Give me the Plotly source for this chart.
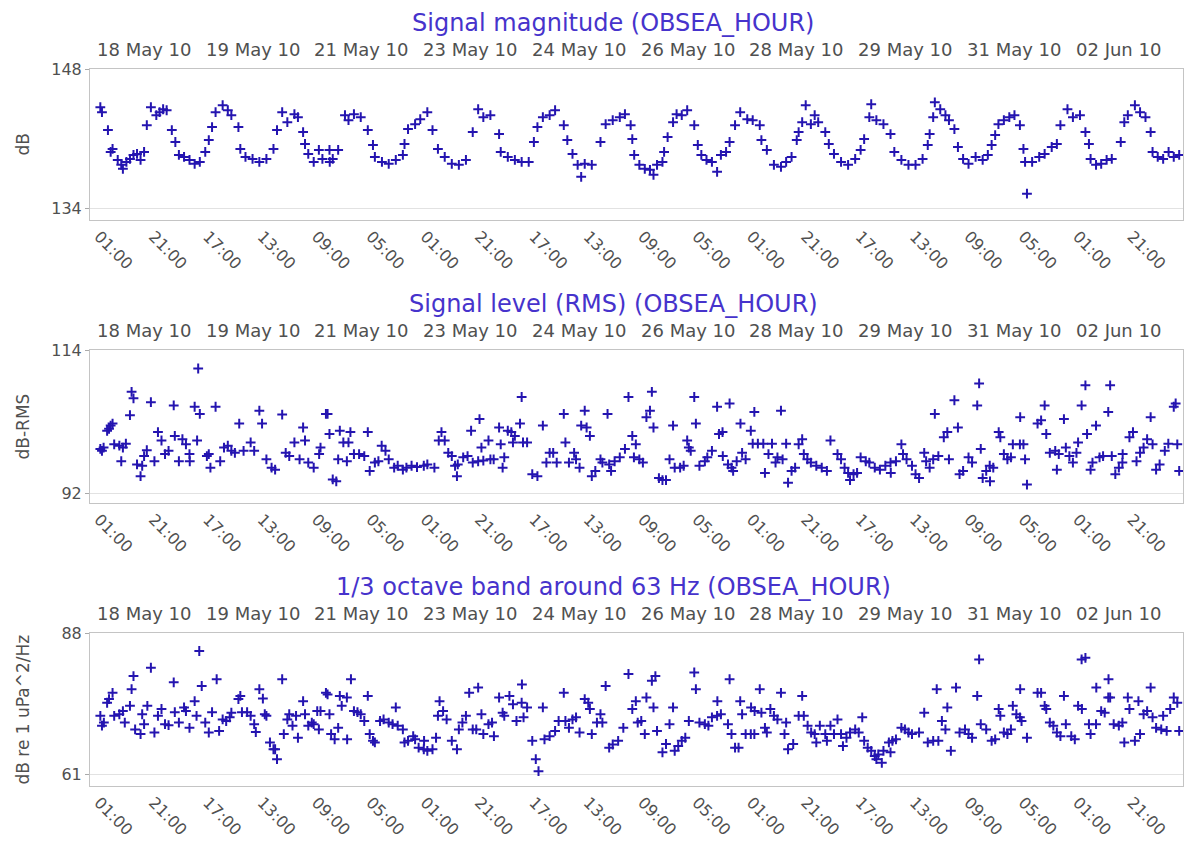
import pandas as pd
import plotly.graph_objects as go

# ---------------- data ----------------
# hours after 18 May 2010 01:00, value
START = "2010-05-18 01:00"

MAGNITUDE_DB = [
    (0.5,144.2),(1.1,143.7),(3.3,141.9),(4.3,139.7),(5.0,140.0),(6.9,138.9),(8.2,138.4),(8.8,138.0),(10.1,138.7),(11.4,139.0),
    (12.7,139.4),(14.0,139.5),(15.3,138.9),(16.6,139.7),(17.6,142.4),(19.1,144.2),(21.1,143.4),(22.3,143.7),(23.6,144.0),(24.9,143.9),
    (26.8,141.9),(28.1,140.7),(29.4,139.4),(31.3,139.2),(33.3,138.9),(35.2,138.5),(37.1,138.7),(39.1,139.7),(40.4,140.9),(41.6,142.2),
    (42.9,143.7),(45.5,144.4),(47.4,143.9),(48.7,143.4),(51.3,142.2),(52.0,140.0),(53.9,139.2),(56.5,139.0),(59.0,138.7),(61.6,139.0),
    (64.2,140.0),(65.5,141.9),(67.4,143.7),(69.3,142.7),(71.9,143.5),(73.2,143.2),(75.1,141.7),(75.8,140.5),(77.0,139.5),(79.0,138.7),
    (80.9,139.9),(82.2,139.0),(84.8,139.9),(84.9,138.7),(86.0,139.0),(88.0,139.9),(90.5,143.4),(91.8,142.9),(93.8,143.5),(96.3,143.2),
    (98.9,141.9),(100.8,140.4),(101.5,139.2),(104.1,138.7),(106.6,138.5),(109.2,138.9),(111.8,139.4),(112.4,140.5),(113.7,142.0),(116.3,142.5),
    (118.2,143.0),(120.8,143.7),(122.7,141.9),(124.7,140.0),(127.2,139.2),(129.8,138.5),(132.4,138.4),(135.0,138.9),(137.5,141.7),(139.5,144.0),
    (141.4,143.2),(144.0,143.4),(147.2,141.5),(147.8,139.7),(150.4,139.2),(153.0,138.9),(155.5,138.7),(158.1,138.7),(160.0,140.7),(161.3,142.2),
    (163.3,143.2),(165.8,143.4),(167.8,143.9),(171.0,142.4),(172.3,140.9),(174.2,139.5),(176.1,138.4),(177.4,137.2),(178.7,138.5),(181.3,138.4),
    (184.5,140.7),(186.4,142.5),(189.0,142.9),(191.6,143.2),(193.5,143.5),(195.6,142.4),(196.2,141.0),(196.9,139.4),(198.8,138.4),(200.8,138.0),
    (202.7,137.9),(204.0,137.4),(205.3,138.4),(207.3,138.7),(207.9,139.7),(209.2,141.2),(211.2,142.7),(212.5,143.5),(214.4,143.4),(216.4,143.9),
    (219.0,142.4),(220.3,140.4),(221.6,139.4),(223.5,138.9),(225.5,138.7),(227.4,137.7),(228.8,139.4),(230.7,139.7),(232.0,140.7),(234.0,142.4),
    (235.9,143.7),(238.5,143.0),(240.5,142.9),(243.1,142.4),(243.7,140.9),(245.7,139.9),(248.3,138.4),(250.9,138.2),(252.8,138.7),(254.8,139.2),
    (256.7,140.9),(257.4,141.7),(258.7,142.7),(260.0,144.4),(261.9,142.5),(263.3,143.4),(264.6,142.7),(267.2,141.7),(268.5,140.5),(270.4,139.5),
    (273.0,138.7),(275.6,138.4),(278.2,139.0),(280.2,139.9),(281.5,141.0),(283.4,143.2),(284.1,144.5),(286.0,142.9),(288.6,142.5),(291.2,141.5),
    (292.6,139.7),(295.2,138.9),(297.8,138.4),(300.4,138.4),(303.0,139.0),(304.9,140.4),(305.6,141.5),(306.9,143.2),(307.5,144.7),(309.5,144.0),
    (311.4,143.4),(312.7,142.9),(314.7,142.0),(316.0,140.2),(317.9,139.0),(319.9,138.5),(322.5,139.2),(325.1,138.9),(327.0,139.4),(328.4,140.4),
    (329.7,141.4),(330.9,142.5),(332.9,142.9),(334.9,143.2),(336.8,143.4),(338.8,142.4),(340.1,140.0),(340.7,138.7),(341.4,135.5),(343.3,138.7),
    (345.9,139.2),(347.9,139.5),(350.5,140.2),(352.4,140.5),(353.7,142.4),(356.3,144.0),(358.3,143.2),(360.9,143.4),(362.9,141.7),(364.2,140.5),
    (364.8,139.0),(366.8,138.4),(368.7,138.5),(370.7,138.9),(372.6,139.0),(375.9,140.7),(377.2,142.7),(378.5,143.4),(381.1,144.4),(383.0,143.7),
    (385.0,143.2),(386.9,141.7),(387.6,139.7),(389.5,139.2),(391.5,139.0),(393.5,139.7),(395.4,139.2),(397.4,139.4),
]

RMS_DB = [
    (0.5,98.8),(1.1,98.5),(1.7,99.0),(3.0,101.6),(3.7,101.9),(4.3,102.4),(5.0,102.7),(5.6,99.5),(7.5,99.3),(8.8,99.0),
    (9.9,99.6),(8.2,96.9),(11.4,104.0),(12.0,107.6),(12.7,106.6),(14.0,96.4),(15.9,96.2),(15.3,94.6),(16.6,97.7),(17.6,98.6),
    (19.1,106.0),(20.4,96.9),(21.7,101.4),(23.0,100.1),(24.3,98.0),(25.6,98.5),(27.5,105.5),(27.9,100.8),(29.4,96.9),(30.7,100.3),
    (32.0,99.5),(33.3,98.0),(33.4,96.9),(35.2,105.3),(36.1,100.1),(37.1,104.2),(36.5,111.2),(39.7,97.7),(40.4,98.0),(41.0,95.9),
    (42.9,105.3),(44.6,96.9),(46.0,99.0),(47.4,99.3),(48.7,98.5),(50.0,98.2),(51.6,102.7),(53.2,98.5),(55.8,99.8),(57.1,98.5),
    (59.0,104.7),(60.0,102.7),(61.6,97.2),(63.5,95.9),(64.8,95.6),(67.4,104.1),(68.7,98.2),(70.0,97.7),(71.9,99.8),(73.8,97.2),
    (75.1,102.1),(75.8,100.1),(77.0,96.7),(79.0,95.9),(81.0,98.0),(81.5,99.0),(83.5,104.2),(84.1,104.2),(84.8,101.1),(86.0,94.1),
    (87.3,93.8),(88.0,97.2),(88.6,101.6),(89.9,99.8),(91.8,99.8),(91.2,96.9),(92.5,101.4),(93.8,98.0),(95.7,98.0),(97.6,97.7),
    (98.9,101.4),(99.6,95.4),(101.5,96.7),(102.8,96.9),(104.0,99.3),(105.4,98.5),(106.6,97.2),(108.6,95.9),(109.9,96.2),(111.8,95.6),
    (113.1,95.9),(115.0,96.2),(117.0,96.0),(119.5,96.2),(120.8,96.4),(123.4,95.9),(125.0,100.1),(126.0,101.4),(127.2,100.1),(128.5,98.2),
    (129.8,97.7),(131.0,96.2),(132.0,96.4),(131.7,94.6),(134.0,97.5),(135.6,97.7),(136.9,101.6),(137.5,96.7),(139.5,96.9),(141.4,97.0),
    (144.0,97.2),(145.2,97.2),(140.0,103.4),(140.7,99.0),(143.3,100.1),(147.2,102.1),(147.8,99.5),(148.5,95.9),(149.1,97.5),(150.4,101.6),
    (151.7,101.4),(153.0,100.8),(152.3,99.8),(154.9,102.7),(155.5,106.8),(156.0,99.8),(157.5,99.8),(159.4,94.9),(161.3,94.6),(163.3,102.4),
    (164.6,96.7),(165.8,98.2),(167.1,98.2),(168.4,96.7),(171.0,104.2),(171.6,99.8),(172.9,96.7),(174.8,98.2),(175.5,97.2),(176.8,95.9),
    (177.4,102.4),(179.4,102.1),(178.7,104.7),(180.6,100.8),(181.3,94.6),(182.6,95.4),(184.5,97.2),(185.2,96.7),(187.1,104.2),(187.7,96.4),
    (189.7,96.9),(188.4,95.4),(191.6,97.5),(193.5,98.8),(194.8,106.8),
    (196.2,100.8),(197.5,99.5),(196.8,97.5),(198.8,97.2),(200.1,96.7),(201.4,103.7),(202.7,104.7),(203.4,107.6),(204.0,102.1),(206.0,94.3),
    (207.3,94.0),(208.6,94.0),(209.9,97.2),(211.2,102.4),(211.8,95.9),(213.8,95.9),(215.1,96.2),(216.4,100.1),(217.0,99.0),(217.7,98.5),
    (219.0,106.8),(219.6,102.7),(220.9,96.2),(222.9,96.9),(223.8,97.5),(225.5,98.5),(227.4,105.3),(228.1,101.1),(229.4,101.4),(229.5,97.7),
    (231.4,96.4),(232.7,95.9),(233.3,95.4),(232.0,105.8),(234.6,96.9),(236.6,98.2),(237.9,97.2),(236.0,102.7),(239.8,101.6),(240.5,99.6),
    (242.4,99.6),(244.4,99.6),(247.6,99.6),(241.1,104.5),(245.0,95.1),(246.3,98.0),(248.9,96.7),(249.6,97.5),(251.5,97.2),(250.9,104.7),
    (252.8,99.6),(253.5,93.6),(254.8,95.4),(256.1,95.9),(257.4,99.5),(258.7,100.3),(259.3,98.0),(260.6,97.2),(261.9,96.7),(263.9,96.2),
    (265.9,95.9),(267.8,95.4),(269.1,100.1),(271.7,98.0),(273.0,97.2),(274.3,95.9),(275.6,95.1),(276.3,94.0),(277.6,94.9),(278.9,95.1),
    (280.2,97.5),(282.1,96.9),(283.4,96.7),(285.4,95.9),(287.3,95.6),(289.3,96.2),(291.2,96.7),(293.2,96.9),(291.3,95.1),(295.2,99.5),
    (295.8,98.0),(297.1,97.2),(299.1,96.2),(300.4,94.9),(301.7,94.3),(303.6,98.2),(304.3,96.9),(305.6,95.9),(306.9,97.2),(308.8,97.7),
    (307.5,104.2),(310.8,100.6),(312.1,101.4),(312.7,97.2),(314.7,106.3),(316.0,102.1),(316.6,94.9),(317.9,95.4),(319.9,97.5),(321.2,96.7),
    (323.1,105.5),(323.8,108.9),(324.4,98.8),(325.1,94.3),(326.4,95.4),(327.7,96.2),(327.8,93.8),(329.0,95.9),(331.0,101.4),(331.6,100.6),
    (332.9,98.0),(334.2,97.2),(335.5,97.5),(336.2,99.5),(338.8,99.5),(340.1,99.5),(338.9,103.7),(340.7,97.2),(341.4,93.3),(345.3,102.7),
    (346.6,103.2),(347.9,105.5),(348.5,101.1),(349.8,98.2),(351.8,98.5),(353.1,98.0),(352.4,95.6),(355.0,103.4),(355.7,99.0),(357.0,97.7),
    (358.3,96.7),(359.6,98.2),(360.2,99.8),(361.5,105.5),(362.9,108.6),(363.5,101.1),(364.8,95.6),(366.8,102.4),(365.5,96.7),(368.1,97.5),
    (369.4,97.7),(371.3,104.5),(372.0,108.6),(372.6,97.7),(373.9,94.9),(375.2,95.9),(376.5,96.7),(376.6,98.0),(379.1,100.6),(380.4,101.4),
    (381.7,96.9),(383.0,98.2),(384.3,99.0),(385.6,100.3),(386.9,103.7),(387.6,99.5),(388.9,95.6),(390.2,96.4),(392.1,98.5),(393.4,99.6),
    (395.4,105.3),(396.1,105.8),(396.7,99.5),(397.4,95.4),
]

BAND63_DB = [
    (0.5,72.2),(1.1,70.3),(1.8,70.9),(3.0,74.7),(3.7,75.4),(5.0,76.6),(5.6,72.2),(7.5,72.5),(8.8,73.1),(9.5,70.9),
    (11.4,74.1),(12.0,77.3),(12.7,79.8),(13.3,69.6),(15.3,68.7),(15.9,72.5),(16.6,70.6),(17.8,74.1),(19.1,81.4),(20.4,69.0),
    (21.7,72.2),(23.0,73.5),(24.3,70.6),(25.6,70.4),(27.5,78.6),(27.9,72.9),(29.4,70.9),(31.3,73.8),(32.0,73.1),(33.3,69.9),
    (35.2,75.0),(35.9,72.2),(36.9,84.6),(37.8,77.9),(39.1,70.9),(40.4,69.0),(41.6,72.9),(43.3,79.2),(44.2,69.3),(45.5,71.5),
    (46.8,71.2),(48.1,71.9),(48.7,72.8),(51.3,75.4),(52.0,76.0),(52.6,72.9),(54.5,72.9),(55.8,72.2),(57.1,70.6),(57.7,69.1),
    (59.0,77.3),(60.3,75.5),(61.0,72.5),(61.6,72.2),(62.9,67.1),(64.2,65.8),(64.8,65.8),(65.5,63.9),(67.4,79.2),(68.0,68.7),
    (69.3,71.5),(70.0,72.5),(71.2,70.3),(72.5,72.2),(73.2,68.0),(75.1,75.0),(75.8,72.5),(77.0,70.3),(78.3,70.9),(79.0,70.6),
    (80.3,73.1),(81.5,73.1),(80.9,69.6),(83.5,76.6),(84.1,76.3),(84.8,72.5),(85.4,68.7),(86.7,67.7),(88.0,69.9),(88.6,76.0),
    (91.2,75.7),(89.3,74.1),(91.3,67.7),(92.7,79.2),(93.8,73.1),(95.1,72.9),(96.3,72.5),(97.6,71.2),(98.9,76.0),(99.6,68.7),
    (100.8,67.4),(101.5,67.1),(103.4,71.2),(104.7,71.5),(106.6,70.9),(108.0,70.6),(109.9,70.3),(109.2,73.8),(111.8,69.6),(112.4,67.1),
    (113.7,67.4),(115.6,68.3),(116.3,67.7),(117.6,66.1),(119.5,65.8),(120.8,65.5),(122.7,65.8),(119.6,67.4),(124.0,68.0),(124.7,72.2),
    (125.3,75.0),(126.6,73.1),(127.9,71.5),(129.8,67.4),(131.7,65.8),(132.4,69.6),(133.7,70.9),(135.0,72.2),(136.2,76.6),(139.5,77.6),
    (137.5,69.6),(138.8,69.6),(140.7,72.5),(141.4,68.7),(143.3,70.6),(144.6,70.9),(145.3,68.3),(147.2,75.7),(148.5,72.8),(149.1,72.2),
    (151.0,76.0),(152.3,74.4),(153.6,71.2),(155.5,74.7),(156.2,71.9),(157.5,73.8),(155.6,78.2),(159.4,67.4),(160.7,63.9),(161.7,61.6),
    (163.3,73.8),(163.9,67.7),(165.8,68.3),(167.8,69.3),(169.1,71.2),(171.0,76.6),(171.6,71.2),(172.9,69.9),(174.2,71.5),(175.5,71.9),
    (176.8,69.0),(178.7,75.4),(180.0,74.7),(180.6,73.5),(181.3,68.7),(183.2,70.9),(184.5,72.5),(185.2,70.9),(186.4,77.9),(187.7,66.1),
    (189.0,66.7),(191.0,67.4),(192.9,69.9),(194.8,80.2),
    (196.2,73.5),(197.5,75.0),(198.2,70.9),(199.5,71.2),(200.8,68.7),(201.4,75.7),(203.4,78.9),(204.7,79.8),(204.0,73.8),(205.3,69.3),
    (207.3,65.2),(208.6,66.8),(209.9,70.6),(211.2,73.8),(211.8,65.5),(213.1,66.4),(214.4,67.4),(215.7,68.0),(217.0,71.2),(219.0,80.5),
    (219.6,77.3),(220.9,70.9),(222.9,70.6),(224.2,70.3),(225.5,71.9),(227.4,72.2),(228.8,72.5),(227.5,75.0),(231.4,70.6),(232.0,79.2),
    (232.7,68.7),(234.0,66.1),(235.3,66.1),(235.9,75.0),(236.6,72.5),(237.9,68.7),(239.8,68.7),(241.1,68.7),(239.9,73.8),(241.2,73.1),
    (243.1,77.3),(243.7,72.8),(245.0,69.9),(245.7,69.0),(247.0,73.5),(248.3,72.2),(249.6,71.5),(250.9,76.6),(252.2,68.7),(252.8,70.9),
    (253.5,65.8),(255.4,66.8),(257.4,72.2),(258.7,76.0),(259.3,72.2),(260.7,70.3),(262.0,69.0),(263.3,68.7),(263.9,67.1),(265.2,70.3),
    (267.2,68.7),(267.8,67.4),(269.1,70.3),(270.4,68.7),(271.7,71.5),(273.0,68.7),(273.7,66.4),(275.0,68.0),(276.3,69.0),(278.2,69.6),
    (279.5,69.0),(280.8,71.9),(281.5,67.4),(282.8,66.1),(284.1,65.5),(285.4,64.5),(286.7,64.8),(286.0,63.9),(288.0,63.2),(288.6,65.5),
    (290.6,67.1),(291.9,67.4),(293.2,67.7),(291.2,65.2),(295.2,69.9),(296.5,69.6),(297.8,69.0),(299.1,68.7),(301.7,69.0),(303.6,72.8),
    (304.9,67.1),(306.9,67.4),(308.8,67.4),(308.2,77.3),(310.1,71.2),(311.4,69.6),(312.1,73.8),(313.4,65.5),(315.3,77.6),(316.6,69.0),
    (318.6,69.6),(319.9,68.7),(321.2,68.0),(323.1,76.0),(323.8,83.0),(324.4,70.6),(326.4,69.6),(328.4,67.4),(329.7,67.7),(331.0,73.5),
    (331.6,72.2),(332.9,69.0),(334.2,68.7),(335.5,69.6),(336.2,74.1),(337.5,72.5),(338.8,71.9),(339.4,71.2),(338.9,77.3),(341.4,68.0),
    (345.3,76.6),(346.6,76.6),(347.9,74.1),(348.5,73.5),(349.8,70.9),(351.1,70.3),(352.4,69.0),(353.7,68.3),(355.7,70.6),(357.7,68.3),
    (359.0,67.7),(355.0,76.0),(360.2,74.1),(361.5,83.0),(362.9,83.3),(361.6,73.5),(364.2,70.6),(364.8,68.7),(366.8,70.6),(366.9,77.6),
    (368.7,73.1),(370.0,72.8),(371.3,75.7),(372.0,75.7),(371.4,79.2),(373.3,70.6),(375.2,70.3),(376.5,70.9),(377.2,67.1),(381.1,67.4),
    (383.0,68.7),(378.5,75.7),(379.1,73.5),(382.4,75.0),(384.3,72.5),(385.6,73.1),(386.9,77.6),(387.6,71.9),(388.9,69.9),(390.8,69.6),
    (392.8,69.3),(391.5,72.2),(394.1,73.5),(395.4,75.7),(396.7,74.7),(397.4,69.3),
]

TITLES = ["Signal magnitude (OBSEA_HOUR)", "Signal level (RMS) (OBSEA_HOUR)",
          "1/3 octave band around 63 Hz (OBSEA_HOUR)"]
Y_TITLES = ["dB", "dB-RMS", "dB re 1 uPa^2/Hz"]
Y_TICKS = [[134, 148], [92, 114], [61, 88]]

TOP_TICK_TIMES = ["2010-05-18 01:00", "2010-05-19 17:00", "2010-05-21 09:00", "2010-05-23 01:00",
                  "2010-05-24 17:00", "2010-05-26 09:00", "2010-05-28 01:00", "2010-05-29 17:00",
                  "2010-05-31 09:00", "2010-06-02 01:00"]
TOP_TICK_LABELS = ["18 May 10", "19 May 10", "21 May 10", "23 May 10", "24 May 10",
                   "26 May 10", "28 May 10", "29 May 10", "31 May 10", "02 Jun 10"]
BOTTOM_TICK_TIMES = ["2010-05-18 01:00", "2010-05-18 21:00", "2010-05-19 17:00", "2010-05-20 13:00",
                     "2010-05-21 09:00", "2010-05-22 05:00", "2010-05-23 01:00", "2010-05-23 21:00",
                     "2010-05-24 17:00", "2010-05-25 13:00", "2010-05-26 09:00", "2010-05-27 05:00",
                     "2010-05-28 01:00", "2010-05-28 21:00", "2010-05-29 17:00", "2010-05-30 13:00",
                     "2010-05-31 09:00", "2010-06-01 05:00", "2010-06-02 01:00", "2010-06-02 21:00"]
BOTTOM_TICK_LABELS = ["01:00", "21:00", "17:00", "13:00", "09:00", "05:00", "01:00", "21:00",
                      "17:00", "13:00", "09:00", "05:00", "01:00", "21:00", "17:00", "13:00",
                      "09:00", "05:00", "01:00", "21:00"]
X_RANGE = ["2010-05-17 21:42", "2010-06-03 15:48"]

# ---------------- layout geometry ----------------
W, H = 1186, 843
FONT = "DejaVu Sans"
GREY = "#505050"
TITLE_BLUE = "#4633cc"
MARK = "#2414b0"

panels = [
    dict(data=MAGNITUDE_DB, top=69, bottom=220, yr=[132.85, 148.05]),
    dict(data=RMS_DB, top=350, bottom=503, yr=[90.46, 114.05]),
    dict(data=BAND63_DB, top=633, bottom=786, yr=[58.76, 88.05]),
]

base = pd.Timestamp(START)
fig = go.Figure()
annotations = []
layout = dict(width=W, height=H, margin=dict(l=0, r=0, t=0, b=0, autoexpand=False),
              paper_bgcolor="white", plot_bgcolor="white", showlegend=False,
              font=dict(family=FONT, color=GREY))

def py(px):
    return 1 - px / H

for i, p in enumerate(panels):
    n = "" if i == 0 else str(i + 1)
    hrs = [h for h, v in p["data"]]
    vals = [v for h, v in p["data"]]
    xs = [base + pd.Timedelta(hours=h) for h in hrs]
    fig.add_trace(go.Scatter(
        x=xs, y=vals, mode="markers", xaxis="x" + n, yaxis="y" + n,
        marker=dict(symbol="cross-thin", size=7, line=dict(width=2, color=MARK), color=MARK),
        hoverinfo="skip"))
    layout["xaxis" + n] = dict(
        domain=[90 / W, 1183 / W], anchor="y" + n, type="date", range=X_RANGE,
        tickmode="array", tickvals=BOTTOM_TICK_TIMES, ticktext=BOTTOM_TICK_LABELS,
        tickangle=45, tickfont=dict(size=16, color=GREY, family=FONT),
        showline=True, mirror=True, linecolor="#c4c4c4", linewidth=1, automargin=False,
        showgrid=False, zeroline=False, ticks="", fixedrange=True)
    layout["yaxis" + n] = dict(
        domain=[py(p["bottom"]), py(p["top"])], anchor="x" + n, range=p["yr"],
        tickmode="array", tickvals=Y_TICKS[i], ticktext=[str(t) for t in Y_TICKS[i]],
        ticks="outside", ticklen=4, tickcolor="#aaaaaa", automargin=False,
        tickfont=dict(size=16, color=GREY, family=FONT),
        showline=True, mirror=True, linecolor="#c4c4c4", linewidth=1,
        showgrid=True, gridcolor="#e2e2e2", zeroline=False, fixedrange=True)
    # title
    annotations.append(dict(text=TITLES[i], xref="paper", yref="paper", x=613 / W,
                            y=py(p["top"] - 46), xanchor="center", yanchor="middle",
                            showarrow=False, font=dict(size=24, color=TITLE_BLUE, family=FONT)))
    # top date labels
    for t, lab in zip(TOP_TICK_TIMES, TOP_TICK_LABELS):
        annotations.append(dict(text=lab, xref="x" + n, yref="paper", x=t, xshift=-4,
                                y=py(p["top"] - 20), xanchor="left", yanchor="middle",
                                showarrow=False, font=dict(size=18, color=GREY, family=FONT)))
    # y-axis title
    annotations.append(dict(text=Y_TITLES[i], xref="paper", yref="paper", x=22 / W,
                            y=py((p["top"] + p["bottom"]) / 2), xanchor="center", yanchor="middle",
                            textangle=-90, showarrow=False,
                            font=dict(size=17, color=GREY, family=FONT)))

layout["annotations"] = annotations
fig.update_layout(**layout)
fig.write_html("out.html")
